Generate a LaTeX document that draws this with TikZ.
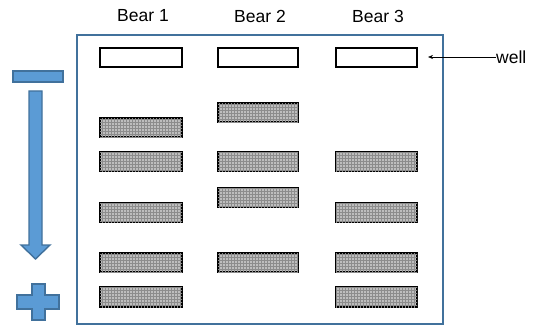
\documentclass[tikz,border=0pt]{standalone}
\usepackage{fontspec}
\setmainfont{Liberation Sans}
\usetikzlibrary{patterns,arrows.meta}
\definecolor{bluefill}{RGB}{91,155,213}
\definecolor{blueline}{RGB}{65,113,156}
\definecolor{bandgray}{RGB}{190,190,190}
\begin{document}
\begin{tikzpicture}[x=1pt,y=-1pt,
  wellbox/.style={draw=black,line width=1.6pt,fill=white},
  bandbox/.style={draw=black,line width=2pt,fill=bandgray,postaction={pattern=grid,pattern color=gray!90}},
  lbl/.style={font=\fontsize{17.5}{20}\selectfont,inner sep=0pt},
  bluesh/.style={fill=bluefill,draw=blueline,line width=1.4pt}]
\useasboundingbox (0,0) rectangle (537,326);
% frame
\draw[blueline,line width=1.8pt] (77,35) rectangle (443,324);
% labels
\node[lbl] (b1) at (143,16) {Bear 1};
\node[lbl] (b2) at (260,16) {Bear 2};
\node[lbl] (b3) at (378,16) {Bear 3};
% wells
\draw[wellbox] (100,48) rectangle (182,67);
\draw[wellbox] (218,48) rectangle (298,67);
\draw[wellbox] (336,48) rectangle (417,67);
\coordinate (wellpt) at (428,57);
% Bear 1 bands
\draw[bandbox] (100,118) rectangle (182,137);
\draw[bandbox] (100,152) rectangle (182,171);
\draw[bandbox] (100,203) rectangle (182,222);
\draw[bandbox] (100,253) rectangle (182,272);
\draw[bandbox] (100,287) rectangle (182,307);
% Bear 2 bands
\draw[bandbox] (218,103) rectangle (298,122);
\draw[bandbox] (218,152) rectangle (298,171);
\draw[bandbox] (218,188) rectangle (298,207);
\draw[bandbox] (218,253) rectangle (298,272);
% Bear 3 bands
\draw[bandbox] (336,152) rectangle (417,171);
\draw[bandbox] (336,203) rectangle (417,222);
\draw[bandbox] (336,253) rectangle (417,272);
\draw[bandbox] (336,287) rectangle (417,307);
% well label
\node[lbl,anchor=west] (well) at (496,57) {well};
\draw[-{Stealth[length=5pt,width=4pt]},line width=0.6pt] (well.west) -- (wellpt);
% minus
\draw[bluesh] (13,71) rectangle (63,82);
% arrow
\draw[bluesh] (29,91) -- (42,91) -- (42,245) -- (50,245) -- (35.5,259) -- (21,245) -- (29,245) -- cycle;
% plus
\draw[bluesh] (32,284) -- (45,284) -- (45,295) -- (59,295) -- (59,309) -- (45,309) -- (45,320) -- (32,320) -- (32,309) -- (17,309) -- (17,295) -- (32,295) -- cycle;
\end{tikzpicture}
\end{document}
